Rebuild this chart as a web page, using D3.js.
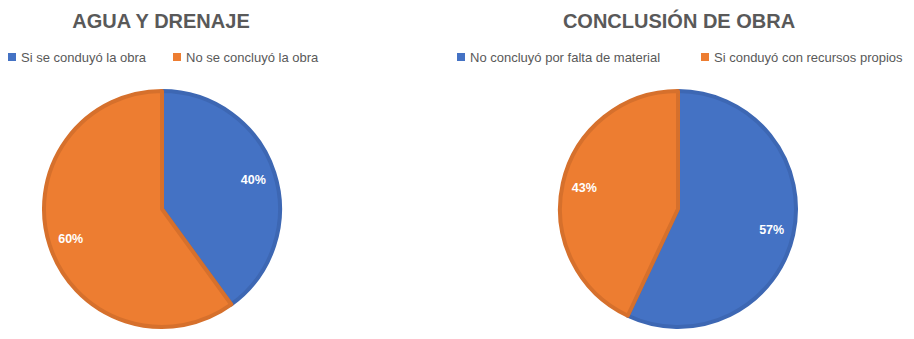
<!DOCTYPE html>
<html><head><meta charset="utf-8">
<script src="https://cdn.jsdelivr.net/npm/d3@7"></script>
<style>body{margin:0;background:#fff}svg{display:block}</style>
</head><body>
<svg id="c" width="914" height="339"></svg>
<script>
const titles = ["AGUA Y DRENAJE", "CONCLUSIÓN DE OBRA"];
const categories1 = ["Si se conduyó la obra", "No se concluyó la obra"];
const values1 = [40, 60];
const categories2 = ["No concluyó por falta de material", "Si conduyó con recursos propios"];
const values2 = [57, 43];
const fills = ["#4472C4", "#ED7D31"];
const strokes = ["#3D67B3", "#D6702C"];

const svg = d3.select("#c");
const font = "'Liberation Sans', Arial, sans-serif";

const charts = [
  {title: titles[0], cats: categories1, vals: values1, cx: 162, cy: 209, legX: [8, 173], titleX: 161},
  {title: titles[1], cats: categories2, vals: values2, cx: 678, cy: 209, legX: [457, 701], titleX: 679}
];

const r = 120;
charts.forEach(ch => {
  const g = svg.append("g");
  g.append("text").attr("x", ch.titleX).attr("y", 28).attr("text-anchor", "middle")
    .attr("font-family", font).attr("font-weight", "bold").attr("font-size", 20)
    .attr("fill", "#595959").text(ch.title);
  ch.cats.forEach((c, i) => {
    g.append("rect").attr("x", ch.legX[i]).attr("y", 53).attr("width", 8).attr("height", 8)
      .attr("fill", fills[i]);
    g.append("text").attr("x", ch.legX[i] + 13).attr("y", 62)
      .attr("font-family", font).attr("font-size", 13).attr("fill", "#595959").text(c);
  });
  const data = ch.vals.map((v, i) => ({v, i}));
  const pie = d3.pie().value(d => d.v).sort(null);
  const arc = d3.arc().innerRadius(0).outerRadius(r - 2);
  const labelArc = d3.arc().innerRadius(r * 0.8).outerRadius(r * 0.8);
  const pg = g.append("g").attr("transform", `translate(${ch.cx},${ch.cy})`);
  const arcs = pie(data);
  pg.selectAll("path").data(arcs).join("path")
    .attr("d", arc).attr("fill", d => fills[d.data.i])
    .attr("stroke", d => strokes[d.data.i]).attr("stroke-width", 4)
    .attr("stroke-linejoin", "round");
  const total = d3.sum(ch.vals);
  pg.selectAll("text").data(arcs).join("text")
    .attr("transform", d => `translate(${labelArc.centroid(d)})`)
    .attr("text-anchor", "middle").attr("dy", "0.35em")
    .attr("font-family", font).attr("font-weight", "bold").attr("font-size", 12.5)
    .attr("fill", "#fff").text(d => Math.round(d.data.v / total * 100) + "%");
});
</script>
</body></html>
